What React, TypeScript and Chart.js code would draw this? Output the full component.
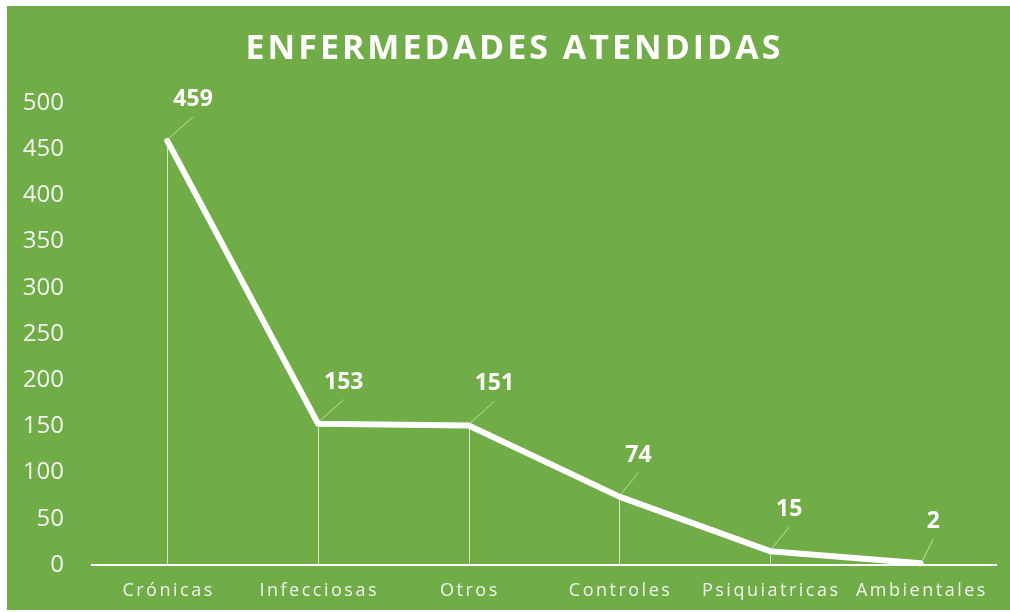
import React, { useEffect, useRef } from "react";
import { Chart, registerables } from "chart.js";

Chart.register(...registerables);

const categories = ["Crónicas", "Infecciosas", "Otros", "Controles", "Psiquiatricas", "Ambientales"];
const values = [459, 153, 151, 74, 15, 2];
const titleText = "ENFERMEDADES ATENDIDAS";
const yMin = 0;
const yMax = 500;
const yStep = 50;

const BG = "#70AD47";
const FONT = "'Open Sans', 'Noto Sans', sans-serif";

function drawSpaced(ctx: CanvasRenderingContext2D, text: string, cx: number, cy: number, spacing: number) {
  (ctx as any).letterSpacing = spacing + "px";
  const w = ctx.measureText(text).width - spacing;
  ctx.textAlign = "left";
  ctx.fillText(text, cx - w / 2, cy);
  (ctx as any).letterSpacing = "0px";
}

const overlay = {
  id: "overlay",
  beforeDatasetsDraw(chart: any) {
    const ctx = chart.ctx as CanvasRenderingContext2D;
    const meta = chart.getDatasetMeta(0);
    const yb = chart.scales.y.getPixelForValue(0);
    ctx.save();
    ctx.strokeStyle = "rgba(255,255,255,0.7)";
    ctx.lineWidth = 1;
    meta.data.forEach((p: any) => {
      const x = Math.round(p.x) + 0.5;
      ctx.beginPath();
      ctx.moveTo(x, p.y);
      ctx.lineTo(x, yb);
      ctx.stroke();
    });
    ctx.restore();
  },
  afterDatasetsDraw(chart: any) {
    const ctx = chart.ctx as CanvasRenderingContext2D;
    const meta = chart.getDatasetMeta(0);
    ctx.save();
    ctx.font = "bold 23px " + FONT;
    ctx.textBaseline = "alphabetic";
    ctx.textAlign = "left";
    meta.data.forEach((p: any, i: number) => {
      const txt = String(values[i]);
      const w = ctx.measureText(txt).width;
      const lx = p.x + 6;
      const cx = lx + w / 2;
      ctx.strokeStyle = "rgba(255,255,255,0.55)";
      ctx.lineWidth = 1;
      ctx.beginPath();
      ctx.moveTo(p.x + 2, p.y - 3);
      ctx.lineTo(cx, p.y - 24);
      ctx.stroke();
      ctx.fillStyle = "#ffffff";
      ctx.fillText(txt, lx, p.y - 35);
    });
    ctx.restore();
  },
  afterDraw(chart: any) {
    const ctx = chart.ctx as CanvasRenderingContext2D;
    const meta = chart.getDatasetMeta(0);
    ctx.save();
    ctx.fillStyle = "#ffffff";
    ctx.textBaseline = "middle";
    ctx.font = "bold 34px " + FONT;
    drawSpaced(ctx, titleText, 506, 43, 3);
    ctx.fillStyle = "#f2f2f2";
    ctx.font = "18px " + FONT;
    meta.data.forEach((p: any, i: number) => {
      drawSpaced(ctx, categories[i], p.x, 585, 2.5);
    });
    ctx.restore();
  },
};

export default function App() {
  const ref = useRef<HTMLCanvasElement | null>(null);
  useEffect(() => {
    if (!ref.current) return;
    const chart = new Chart(ref.current, {
      type: "line",
      data: {
        labels: categories,
        datasets: [
          {
            data: values,
            borderColor: "#ffffff",
            borderWidth: 6,
            pointRadius: 0,
            borderCapStyle: "round",
            borderJoinStyle: "round",
            tension: 0,
            clip: false as any,
          },
        ],
      },
      options: {
        animation: false,
        responsive: false,
        devicePixelRatio: 1,
        layout: { padding: { top: 97, bottom: 45, left: 0, right: 14 } },
        plugins: { legend: { display: false }, tooltip: { enabled: false }, title: { display: false } },
        scales: {
          x: {
            offset: true,
            grid: { display: false, drawTicks: false },
            border: { display: true, color: "#ffffff", width: 2 },
            ticks: { display: false },
            afterFit: (s: any) => {
              s.height = 0;
            },
          },
          y: {
            min: yMin,
            max: yMax,
            grid: { display: false, drawTicks: false },
            border: { display: false },
            ticks: {
              stepSize: yStep,
              color: "#f2f2f2",
              padding: 28,
              font: { family: FONT, size: 24 },
            },
            afterFit: (s: any) => {
              s.width = 85;
            },
          },
        },
      },
      plugins: [overlay],
    });
    return () => chart.destroy();
  }, []);
  return (
    <div style={{ position: "absolute", left: 7, top: 6, width: 1003, height: 604, background: BG }}>
      <canvas ref={ref} width={1003} height={604} style={{ display: "block" }} />
    </div>
  );
}
